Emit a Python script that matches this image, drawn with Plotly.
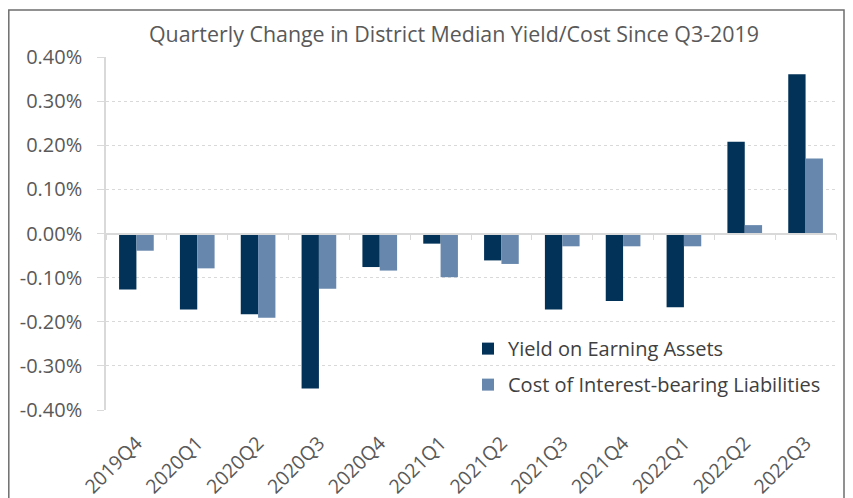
import plotly.graph_objects as go

quarters = ["2019Q4", "2020Q1", "2020Q2", "2020Q3", "2020Q4", "2021Q1",
            "2021Q2", "2021Q3", "2021Q4", "2022Q1", "2022Q2", "2022Q3"]
yield_earning = [-0.127, -0.172, -0.183, -0.351, -0.076, -0.023,
                 -0.061, -0.172, -0.153, -0.167, 0.208, 0.361]
cost_liab = [-0.039, -0.079, -0.191, -0.125, -0.084, -0.099,
             -0.069, -0.029, -0.029, -0.029, 0.019, 0.170]
y_ticks = [-0.4, -0.3, -0.2, -0.1, 0.0, 0.1, 0.2, 0.3, 0.4]
y_tick_labels = [f"{v:.2f}%" for v in y_ticks]

DARK = "#033259"
LIGHT = "#6787ad"
GRID = "#d9d9d9"
TXT = "#595959"
FONT = "'Open Sans', Lato, sans-serif"

# page is drawn with the browser's default 8px body margin
OFF = 8
W, H = 853 - OFF, 498 - OFF
L, T = 106 - OFF, 56.5 - OFF
R = W - (836 - OFF)
B = H - (410 - OFF)
pw, ph = W - L - R, H - T - B


def px_x(page_x):
    return (page_x - OFF - L) / pw


def px_y(page_y):
    return (H - B - (page_y - OFF)) / ph


fig = go.Figure()
fig.add_trace(go.Bar(name="Yield on Earning Assets", x=quarters, y=yield_earning,
                     legendgroup="a",
                     marker=dict(color=DARK, line=dict(width=0)), hoverinfo="x+y"))
fig.add_trace(go.Bar(name="Cost of Interest-bearing Liabilities", x=quarters, y=cost_liab,
                     legendgroup="b",
                     marker=dict(color=LIGHT, line=dict(width=0)), hoverinfo="x+y"))
# invisible helper trace for the zero-line category axis
fig.add_trace(go.Scatter(x=quarters, y=[0] * len(quarters), xaxis="x2", mode="markers",
                         marker=dict(opacity=0), showlegend=False, hoverinfo="skip"))

zero_pos = (0 - (-0.4)) / 0.8

fig.update_layout(
    width=W, height=H,
    margin=dict(l=L, r=R, t=T, b=B, autoexpand=False),
    paper_bgcolor="white", plot_bgcolor="white",
    barmode="group", bargap=0.43, bargroupgap=0,
    font=dict(family=FONT, color=TXT),
    title=dict(text="Quarterly Change in District Median Yield/Cost Since Q3-2019",
               x=px_x(454), xref="paper", xanchor="center",
               y=1 - (35 - OFF) / H, yref="container", yanchor="middle",
               font=dict(size=21.4, color=TXT, family=FONT)),
    xaxis=dict(type="category", categoryorder="array", categoryarray=quarters,
               showline=False, showgrid=False, ticks="", tickangle=-45,
               ticklabelstandoff=17,
               tickfont=dict(size=19.5, color=TXT), range=[-0.5, 11.5]),
    xaxis2=dict(type="category", categoryorder="array", categoryarray=quarters,
                overlaying="x", anchor="free", position=zero_pos, matches="x",
                showline=True, linecolor=GRID, linewidth=1.5,
                ticks="outside", tickson="boundaries", ticklen=6, tickcolor=GRID,
                showticklabels=False, showgrid=False),
    yaxis=dict(range=[-0.4, 0.4], tickvals=y_ticks, ticktext=y_tick_labels,
               showgrid=True, gridcolor=GRID, griddash="dot", gridwidth=1,
               zeroline=False, showline=True, linecolor=GRID, linewidth=1.5,
               ticks="outside", ticklen=7, tickcolor=GRID, ticklabelstandoff=11,
               tickfont=dict(size=20, color=TXT)),
    legend=dict(x=px_x(468), y=px_y(329), xanchor="left", yanchor="top",
                bgcolor="rgba(0,0,0,0)", font=dict(size=20, color="#404040"),
                tracegroupgap=7),
    shapes=[dict(type="rect", xref="paper", yref="paper",
                 x0=px_x(8.8), x1=px_x(844),
                 y0=px_y(520), y1=px_y(9.5),
                 line=dict(color="#6e6e6e", width=1.5), fillcolor="rgba(0,0,0,0)",
                 layer="below")],
)

fig.write_html("out.html")
